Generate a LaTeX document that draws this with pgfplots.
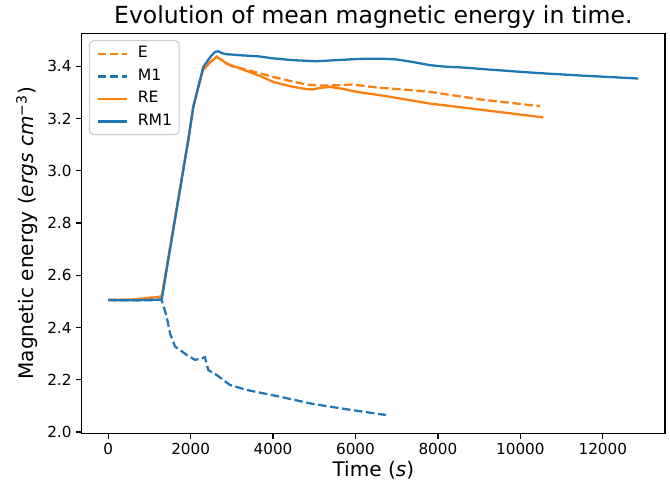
\documentclass[border=0pt]{standalone}
\usepackage{fontspec}
\setmainfont{DejaVu Sans}
\usepackage{pgfplots}
\pgfplotsset{compat=1.18}
\definecolor{tabblue}{HTML}{1F77B4}
\definecolor{taborange}{HTML}{FF7F0E}
\begin{document}
\begin{tikzpicture}
\begin{axis}[
  at={(0,0)}, anchor=south west,
  scale only axis, width=5.833in, height=4.0in,
  xmin=-643, xmax=13509, ymin=1.995, ymax=3.526,
  axis line style={line width=0.88pt},
  tick align=outside, xtick pos=left, ytick pos=left,
  major tick length=0.053in,
  tick style={line width=0.88pt, black},
  xtick={0,2000,4000,6000,8000,10000,12000},
  ytick={2.0,2.2,2.4,2.6,2.8,3.0,3.2,3.4},
  scaled x ticks=false,
  /pgf/number format/assume math mode=true,
  xticklabel style={/pgf/number format/1000 sep={}, /pgf/number format/fixed},
  yticklabel style={/pgf/number format/fixed, /pgf/number format/fixed zerofill, /pgf/number format/precision=1},
  tick label style={font=\fontsize{11}{13}\selectfont},
  title={Evolution of mean magnetic energy in time.},
  title style={font=\fontsize{17}{20}\selectfont, at={(axis description cs:0.5,1)}, anchor=base, yshift=0.01in},
  xlabel={Time (\textit{s})},
  ylabel={Magnetic energy (\textit{ergs cm}\textsuperscript{−3})},
  every axis x label/.style={at={(axis description cs:0.5,0)}, anchor=base, yshift=-0.435in, font=\fontsize{14.5}{17}\selectfont},
  every axis y label/.style={at={(axis description cs:-0.0935,0.5)}, rotate=90, anchor=center, font=\fontsize{14.5}{17}\selectfont},
  legend cell align=left,
  legend image code/.code={\draw[#1] (0in,0in) -- (0.29in,0in);},
  legend style={at={(axis description cs:0.0125,0.983)}, anchor=north west,
    draw=black!20, line width=0.8pt, rounded corners=3pt, fill=white, fill opacity=0.8, text opacity=1,
    font=\fontsize{11.3}{13}\selectfont, inner xsep=0.07in, inner ysep=0.02in,
    row sep=0pt, column sep=0.1in,
    nodes={inner xsep=0pt, inner ysep=0.04in, text height=0.11in, text depth=0.035in}},
]
\addplot[taborange, line width=1.65pt, dash pattern=on 6.1pt off 2.65pt] coordinates {
(0,2.505) (600,2.507) (1298,2.518) (1943,3.120) (2065,3.246) (2300,3.388) (2348,3.392)
(2450,3.412) (2632,3.436) (2750,3.424) (2875,3.410) (3000,3.400) (3198,3.393) (3634,3.375)
(4005,3.359) (4400,3.344) (4815,3.330) (5200,3.326) (5623,3.327) (5878,3.330) (6200,3.325)
(6594,3.317) (6836,3.315) (7807,3.302) (9020,3.273) (10476,3.247)};
\addlegendentry{E}
\addplot[tabblue, line width=1.65pt, dash pattern=on 6.1pt off 2.65pt] coordinates {
(0,2.505) (600,2.504) (1298,2.505) (1419,2.441) (1499,2.378) (1621,2.327) (1742,2.314)
(1904,2.295) (2106,2.276) (2268,2.282) (2348,2.286) (2428,2.237) (2632,2.218) (2955,2.180)
(3360,2.161) (4168,2.135) (4976,2.107) (5786,2.087) (6740,2.065)};
\addlegendentry{M1}
\addplot[taborange, line width=1.65pt] coordinates {
(0,2.505) (600,2.507) (1298,2.518) (1943,3.120) (2065,3.246) (2300,3.388) (2348,3.392)
(2450,3.412) (2632,3.436) (2750,3.424) (2875,3.410) (3198,3.391) (3634,3.366) (4005,3.340)
(4400,3.324) (4815,3.312) (4950,3.311) (5150,3.317) (5381,3.321) (5700,3.313) (6100,3.300)
(6594,3.289) (6836,3.283) (7807,3.257) (9020,3.234) (10556,3.204)};
\addlegendentry{RE}
\addplot[tabblue, line width=1.65pt] coordinates {
(0,2.505) (600,2.504) (1298,2.507) (1943,3.117) (2065,3.244) (2307,3.397) (2390,3.416)
(2500,3.440) (2591,3.455) (2671,3.457) (2760,3.450) (2875,3.446) (3198,3.442) (3634,3.438)
(4005,3.430) (4500,3.423) (5058,3.419) (5623,3.424) (6100,3.428) (6594,3.429) (6999,3.426)
(7400,3.416) (7807,3.404) (8200,3.398) (8615,3.395) (9263,3.387) (10320,3.375) (11500,3.364)
(12860,3.353)};
\addlegendentry{RM1}
\end{axis}
\pgfresetboundingbox
\path[use as bounding box] (-0.817in,-0.546in) rectangle (5.883in,4.333in);
\end{tikzpicture}
\end{document}
